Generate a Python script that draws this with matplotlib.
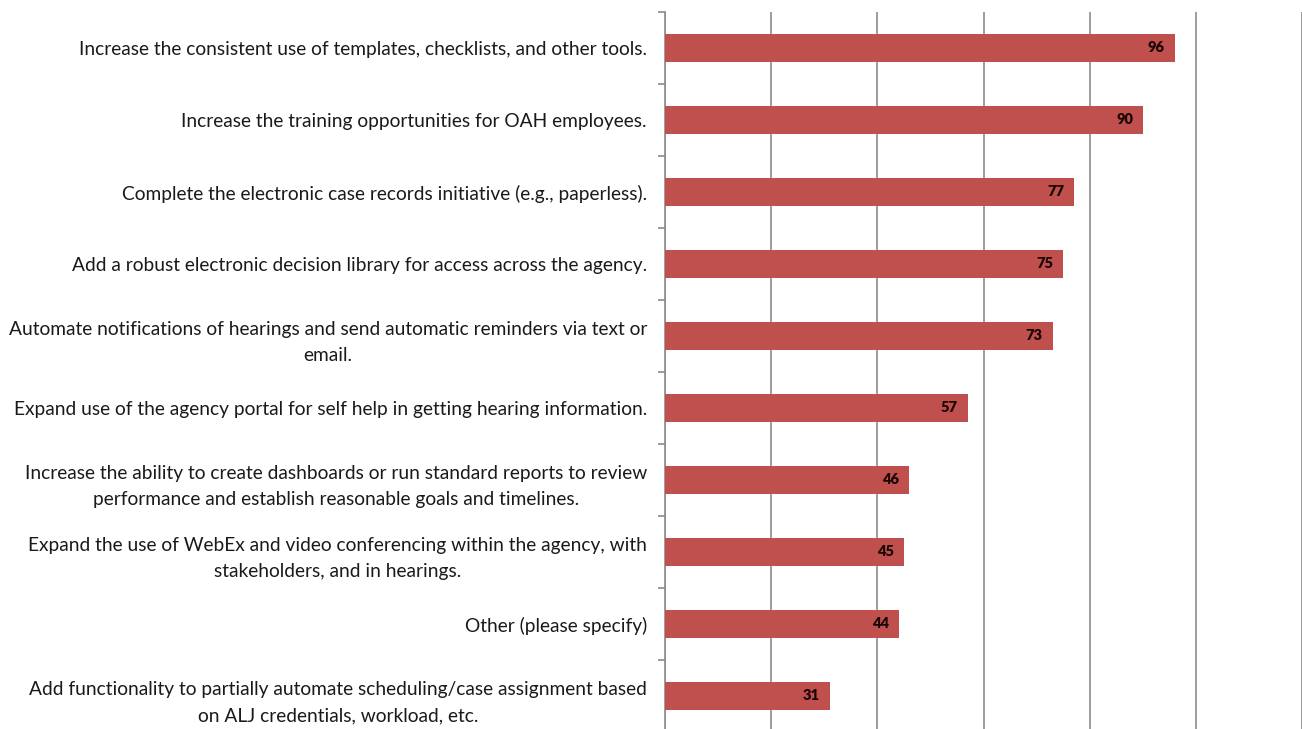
import matplotlib
matplotlib.use("Agg")
import matplotlib.pyplot as plt
import numpy as np

categories = [
    "Increase the consistent use of templates, checklists, and other tools.",
    "Increase the training opportunities for OAH employees.",
    "Complete the electronic case records initiative (e.g., paperless).",
    "Add a robust electronic decision library for access across the agency.",
    "Automate notifications of hearings and send automatic reminders via text or\nemail.",
    "Expand use of the agency portal for self help in getting hearing information.",
    "Increase the ability to create dashboards or run standard reports to review\nperformance and establish reasonable goals and timelines.",
    "Expand the use of WebEx and video conferencing within the agency, with\nstakeholders, and in hearings.",
    "Other (please specify)",
    "Add functionality to partially automate scheduling/case assignment based\non ALJ credentials, workload, etc.",
]
values = [96, 90, 77, 75, 73, 57, 46, 45, 44, 31]
grid_ticks = [0, 20, 40, 60, 80, 100, 120]

plt.rcParams["font.family"] = ["Lato", "DejaVu Sans"]

W, H = 1302, 729
fig = plt.figure(figsize=(W / 100, H / 100), dpi=100)
ax = fig.add_axes([665 / W, -3 / H, 637 / W, 720 / H])

y = np.arange(len(categories))
bars = ax.barh(y, values, height=0.39, color="#C0504D", edgecolor="none", zorder=3)

ax.set_xlim(0, 120)
ax.set_ylim(len(categories) - 0.5, -0.5)

ax.set_xticks(grid_ticks)
ax.xaxis.grid(True, color="#8c8c8c", linewidth=1.2, zorder=0)
ax.tick_params(axis="x", length=0, labelbottom=False)

ax.set_yticks(y)
ax.set_yticklabels(categories, fontsize=13.8, color="#1a1a1a", multialignment="center",
                   linespacing=1.7)
ax.tick_params(axis="y", which="major", length=0, pad=13)
ax.set_yticks(np.arange(len(categories) + 1) - 0.5, minor=True)
ax.tick_params(axis="y", which="minor", length=5, color="#8c8c8c", width=1.2)

for s in ("top", "right", "bottom"):
    ax.spines[s].set_visible(False)
ax.spines["left"].set_color("#8c8c8c")
ax.spines["left"].set_linewidth(1.2)

for rect, v in zip(bars, values):
    ax.annotate(str(v), xy=(rect.get_width(), rect.get_y() + rect.get_height() / 2),
                xytext=(-7, 0), textcoords="offset points", ha="right", va="center",
                fontsize=10.5, fontweight="heavy", color="#1a0505", zorder=4)

fig.savefig("out.png", dpi=100)
